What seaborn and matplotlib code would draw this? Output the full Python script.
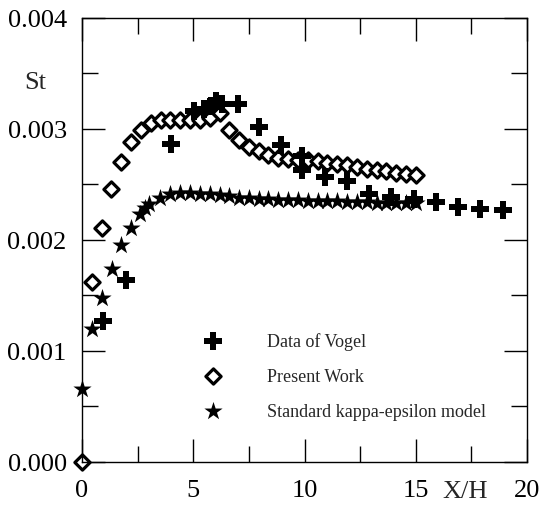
import matplotlib
matplotlib.use("Agg")
import matplotlib.pyplot as plt
import seaborn as sns
import numpy as np
import pandas as pd
from matplotlib.ticker import MultipleLocator

# ---- data (St values) ----
vogel_x = [0.93, 1.96, 4.0, 5.05, 5.5, 5.8, 6.0, 6.3, 7.02, 7.96, 8.95, 9.9, 9.9,
           10.9, 11.9, 12.9, 13.9, 14.9, 15.9, 16.9, 17.9, 18.9]
vogel_y = [0.00127, 0.00164, 0.002865, 0.00316, 0.00318, 0.00320, 0.00325, 0.00322,
           0.00322, 0.003015, 0.00285, 0.00275, 0.00263, 0.002565, 0.002525,
           0.00241, 0.002385, 0.00237, 0.00234, 0.002295, 0.00228, 0.002265]

present_x = [0, 0.44, 0.88, 1.32, 1.76, 2.21, 2.65, 3.09, 3.53, 3.97, 4.41, 4.85, 5.29,
             5.74, 6.18, 6.62, 7.06, 7.50, 7.94, 8.38, 8.82, 9.26, 9.71, 10.15, 10.59,
             11.03, 11.47, 11.91, 12.35, 12.79, 13.24, 13.68, 14.12, 14.56, 15.0]
present_y = [0.0, 0.00162, 0.00211, 0.00246, 0.00270, 0.00288, 0.002985, 0.00305,
             0.003075, 0.00308, 0.00308, 0.00308, 0.00308, 0.00310, 0.00314, 0.00299,
             0.002895, 0.002835, 0.002796, 0.00276, 0.00274, 0.00273, 0.00272,
             0.002715, 0.00271, 0.002695, 0.00268, 0.00267, 0.002655, 0.00264,
             0.00263, 0.00262, 0.00260, 0.00259, 0.00258]

ke_x = [0, 0.43, 0.91, 1.33, 1.75, 2.2, 2.6, 2.85, 3.0, 3.5, 3.95, 4.4, 4.85, 5.29,
        5.74, 6.18, 6.62, 7.06, 7.5, 7.94, 8.38, 8.82, 9.26, 9.71, 10.15, 10.59,
        11.03, 11.47, 11.91, 12.35, 12.79, 13.24, 13.68, 14.12, 14.56, 15.0]
ke_y = [0.00066, 0.00120, 0.00148, 0.00174, 0.00195, 0.002105, 0.00223, 0.00229,
        0.00232, 0.002375, 0.00241, 0.00242, 0.00242, 0.002415, 0.00241, 0.00240,
        0.00239, 0.00238, 0.002375, 0.00237, 0.002365, 0.00236, 0.002355, 0.002355,
        0.00235, 0.00235, 0.002345, 0.002345, 0.00234, 0.00234, 0.00234, 0.002335,
        0.002335, 0.002335, 0.00233, 0.00233]

labels = ["Data of Vogel", "Present Work", "Standard kappa-epsilon model"]
x_ticklabels = ["0", "5", "10", "15", "20"]
y_ticklabels = ["0.000", "0.001", "0.002", "0.003", "0.004"]

sns.set_theme(style="ticks")
plt.rcParams["font.family"] = ["Liberation Serif", "DejaVu Serif"]

W, H = 542, 506
fig = plt.figure(figsize=(W / 100, H / 100), dpi=100)
ax = fig.add_axes([82 / W, 43 / H, 445 / W, 444.5 / H])

sns.scatterplot(x=vogel_x, y=vogel_y, marker="P", color="black", s=160,
                edgecolor="black", linewidth=0, label=labels[0], ax=ax, clip_on=False, zorder=3)
sns.scatterplot(x=present_x, y=present_y, marker="D", facecolor="white", s=60,
                edgecolor="black", linewidth=2.3, label=labels[1], ax=ax, clip_on=False, zorder=2)
sns.scatterplot(x=ke_x, y=ke_y, marker="*", color="black", s=190,
                edgecolor="black", linewidth=0, label=labels[2], ax=ax, clip_on=False, zorder=2)

ax.set_xlim(0, 20)
ax.set_ylim(0, 0.004)
ax.set_xticks([0, 5, 10, 15, 20])
ax.set_xticklabels(x_ticklabels)
ax.set_yticks([0, 0.001, 0.002, 0.003, 0.004])
ax.set_yticklabels(y_ticklabels)
ax.xaxis.set_minor_locator(MultipleLocator(2.5))
ax.yaxis.set_minor_locator(MultipleLocator(0.0005))
ax.tick_params(which="major", direction="in", length=16.5, width=1.0,
               top=True, right=True, labelsize=19, color="black", labelcolor="black")
ax.tick_params(which="minor", direction="in", length=11.5, width=1.0,
               top=True, right=True, color="black")
ax.tick_params(axis="x", which="major", pad=12)
ax.tick_params(axis="y", which="major", pad=11)
for sp in ax.spines.values():
    sp.set_linewidth(1.0)
    sp.set_color("black")
ax.set_xlabel("")
ax.set_ylabel("")

fig.text(35 / W, 1 - 83 / H, "St", ha="center", va="center", fontsize=19)
fig.text(465 / W, 1 - 492 / H, "X/H", ha="center", va="center", fontsize=19)

leg = ax.legend(loc="upper left", bbox_to_anchor=(202 / W, 1 - 333 / H),
                bbox_transform=fig.transFigure, frameon=False, fontsize=13,
                handlelength=1.2, handletextpad=2.4, labelspacing=1.0,
                borderpad=0, borderaxespad=0, scatterpoints=1)

fig.savefig("out.png", dpi=100)
